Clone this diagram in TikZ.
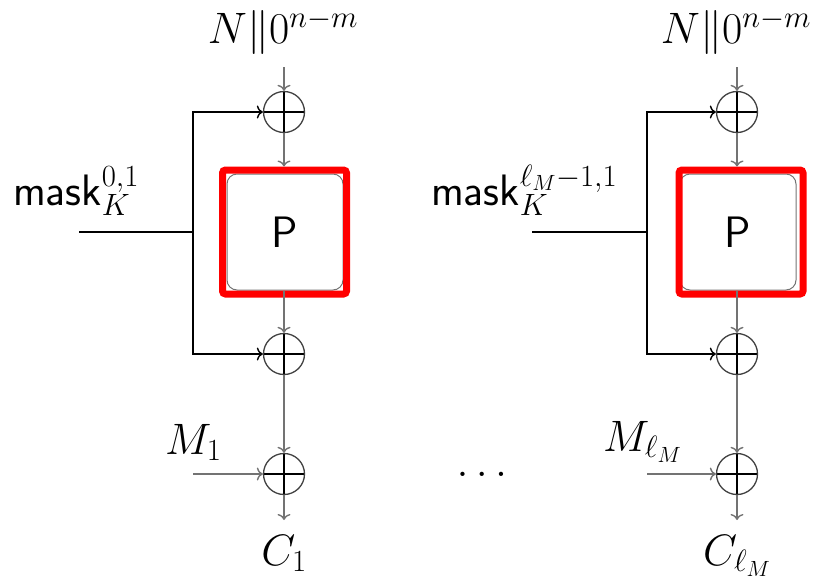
\RequirePackage{fix-cm}
\documentclass[tikz,border=0pt]{standalone}
\usepackage{fontspec}
\usetikzlibrary{arrows.meta}
\begin{document}
\begin{tikzpicture}[x=1pt,y=-1pt,
  every node/.style={font=\fontsize{44}{52}\selectfont},
  >={To[length=6pt,width=13pt]},
  chain/.style={draw=black!55,line width=1.4pt,->},
  maskline/.style={draw=black,line width=1.4pt},
  xorop/.style={circle,draw=black!75,line width=1.3pt,minimum size=41pt,inner sep=0pt,
    path picture={\draw[black,line width=1.3pt]
      (path picture bounding box.north) -- (path picture bounding box.south)
      (path picture bounding box.west) -- (path picture bounding box.east);}},
  pbox/.style={draw=black!55,line width=1pt,rounded corners=10pt,minimum size=116pt,inner sep=0pt,font=\fontsize{44}{52}\selectfont\sffamily},
  hlbox/.style={draw=red,line width=7pt,rounded corners=3pt,minimum size=124pt,inner sep=0pt},
  lbl/.style={inner sep=0pt}]
\useasboundingbox (0,0) rectangle (819,579);
% ---------- left column ----------
\node[lbl,anchor=base] (inA) at (283,43) {$N\|0^{n-m}$};
\coordinate (inAs) at (284,67);
\node[xorop] (xA1) at (284,112) {};
\node[pbox] (PA) at (285,232) {P};
\node[hlbox] (hA) at (284.5,232) {};
\node[xorop] (xA2) at (284,354) {};
\node[xorop] (xA3) at (284,474) {};
\coordinate (outA) at (284,520);
\node[lbl,anchor=base] (cA) at (284,565) {$C_1$};
\node[lbl,anchor=base west] (mkA) at (13,205) {$\textsf{mask}_K^{0,1}$};
\coordinate (mkAs) at (79,232);
\coordinate (mkAj) at (193,232);
\node[lbl,anchor=base west] (mA) at (165,454) {$M_1$};
\coordinate (mAs) at (193,474);
\draw[chain] (inAs) -- (xA1.north);
\draw[chain] (xA1.south) -- (xA1.south |- hA.north);
\draw[chain] (xA1.south |- PA.south) -- (xA2.north);
\draw[chain] (xA2.south) -- (xA3.north);
\draw[chain] (xA3.south) -- (outA);
\draw[maskline] (mkAs) -- (mkAj);
\draw[maskline,->] (mkAj) |- (xA1.west);
\draw[maskline,->] (mkAj) |- (xA2.west);
\draw[chain] (mAs) -- (xA3.west);
% ---------- dots ----------
\node[lbl,anchor=base] (dots) at (482,476) {$\ldots$};
% ---------- right column ----------
\node[lbl,anchor=base] (inB) at (736,43) {$N\|0^{n-m}$};
\coordinate (inBs) at (737,67);
\node[xorop] (xB1) at (737,112) {};
\node[pbox] (PB) at (738,232) {P};
\node[hlbox] (hB) at (741,232) {};
\node[xorop] (xB2) at (737,354) {};
\node[xorop] (xB3) at (737,474) {};
\coordinate (outB) at (737,520);
\node[lbl,anchor=base] (cB) at (737,565) {$C_{\ell_M}$};
\node[lbl,anchor=base west] (mkB) at (431,205) {$\textsf{mask}_K^{\ell_M-1,1}$};
\coordinate (mkBs) at (532,232);
\coordinate (mkBj) at (647,232);
\node[lbl,anchor=base west] (mB) at (603,451) {$M_{\ell_M}$};
\coordinate (mBs) at (647,474);
\draw[chain] (inBs) -- (xB1.north);
\draw[chain] (xB1.south) -- (xB1.south |- hB.north);
\draw[chain] (xB1.south |- PB.south) -- (xB2.north);
\draw[chain] (xB2.south) -- (xB3.north);
\draw[chain] (xB3.south) -- (outB);
\draw[maskline] (mkBs) -- (mkBj);
\draw[maskline,->] (mkBj) |- (xB1.west);
\draw[maskline,->] (mkBj) |- (xB2.west);
\draw[chain] (mBs) -- (xB3.west);
\end{tikzpicture}
\end{document}
